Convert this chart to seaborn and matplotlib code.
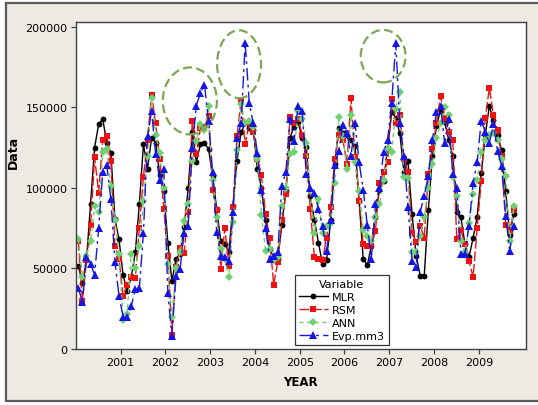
import numpy as np
import pandas as pd
import matplotlib
matplotlib.use("Agg")
import matplotlib.pyplot as plt
from matplotlib.patches import Rectangle, Ellipse
import seaborn as sns

# ---------------- data (values in the plot's units) ----------------
mlr = [51.7, 41, 55, 90, 125, 139.6, 142.7, 128, 121.6, 80.7, 68, 46,
       36, 44.5, 60, 90, 127, 112, 131, 128, 108, 98, 66, 42,
       56, 59, 76, 99.7, 135, 116, 127, 128, 124, 107.5, 87, 67,
       65, 60.4, 89, 117, 134.5, 140, 137.5, 136, 111.7, 100, 80, 62,
       57, 56, 77, 98, 131, 138, 141, 131, 125.5, 95, 80, 66,
       52.7, 55, 80, 115, 137, 134, 133, 130, 126, 92, 56, 52,
       64, 82, 99, 104, 125, 147, 143.7, 133.8, 110, 116.8, 84, 58,
       45.5, 45.5, 86, 120, 138.6, 148, 141, 130, 120, 85, 82, 65,
       57, 69, 82, 109, 133, 151, 142, 133, 123.5, 98, 71, 84]
rsm = [67, 30, 55, 77, 119, 97, 130, 132, 117, 64, 56, 33,
       40, 44.5, 44, 75, 107, 130, 157.8, 140, 118, 87, 58, 9,
       51, 63, 59.6, 85, 141.7, 121, 137, 138, 144.8, 99, 86, 49.6,
       75, 51.7, 88, 132, 154, 127, 140, 135, 118, 108, 84, 69,
       40, 54, 80, 96, 144, 140, 143, 133, 120, 87, 57, 56,
       55, 69, 88, 118, 133, 130, 115, 155.6, 119, 92, 65, 64,
       64, 73, 103, 109.6, 115.8, 155, 140, 145, 118, 110, 72, 66.6,
       76.5, 69, 108.6, 124, 140, 157, 143.7, 135, 130, 68, 74, 65,
       54.8, 44.5, 75, 104, 143.7, 162, 145, 136, 120, 77, 73, 86]
ann = [68, 45, 58, 67, 89, 85, 122, 124, 101, 80, 59, 18,
       22, 59, 50, 64, 92, 120, 155.7, 132.8, 121.6, 100, 53, 20,
       50, 60, 79.6, 90, 117, 129, 139.6, 136, 150.6, 105, 81.7, 62,
       56, 44.5, 79, 123.7, 152, 140, 141.7, 138, 118, 83, 61, 62,
       55, 57, 89, 100, 121, 122, 148, 143, 128, 99, 72, 93,
       72, 76.5, 78, 103, 144, 132, 112, 145, 116, 98, 74, 70,
       67, 82, 90, 105, 125, 122, 149, 159.6, 106.5, 106, 60.4, 60,
       70, 81.7, 100, 115, 131, 140, 150, 145, 107, 95, 67, 60,
       78, 96, 105, 122, 130, 133, 134, 130, 118, 107.5, 67, 88.5]
evp = [38, 29, 57, 53, 46, 75, 110, 114, 93, 54, 33, 20,
       20, 26.5, 37, 38, 72, 132, 148, 121, 105, 111.7, 34.7, 8.3,
       45.5, 49.6, 72, 76.5, 125, 151, 159, 164, 141.7, 109.6, 72.8, 57.5,
       57, 54.8, 84.8, 130.7, 140, 190, 153, 140, 121.6, 99, 75, 56,
       58, 60, 101, 110, 143, 129, 151, 148, 108.6, 100, 97, 87,
       76.5, 61, 80, 114, 123, 139, 134, 120, 140, 115.8, 99, 77,
       56, 90, 100, 122, 130, 153, 190, 140, 120, 88, 54.8, 50.7,
       85, 95, 107.5, 130, 147, 151, 128, 142.7, 108.6, 100, 59, 59,
       76.5, 103, 115.8, 141.7, 135, 128, 139.6, 123, 113.7, 82.7, 61, 76.5]
series_names = ["MLR", "RSM", "ANN", "Evp.mm3"]
year_labels = ["2001", "2002", "2003", "2004", "2005", "2006", "2007", "2008", "2009"]
y_ticks = [0, 50000, 100000, 150000, 200000]

scale = 1000
idx = np.arange(len(mlr))
df = pd.DataFrame({"Index": idx,
                   "MLR": np.array(mlr) * scale,
                   "RSM": np.array(rsm) * scale,
                   "ANN": np.array(ann) * scale,
                   "Evp.mm3": np.array(evp) * scale})

# ---------------- styles ----------------
styles = {
    "MLR": dict(color="black", marker="o", ms=4.2, ls="-"),
    "RSM": dict(color="#EE1111", marker="s", ms=4.0, ls=(0, (7, 2))),
    "ANN": dict(color="#6FD06F", marker="D", ms=4.0, ls=(0, (3, 2.5))),
    "Evp.mm3": dict(color="#1515E6", marker="^", ms=5.2, ls=(0, (9, 3, 2, 3))),
}

W, H = 538, 406
fig = plt.figure(figsize=(W / 100, H / 100), dpi=100)
fig.patch.set_facecolor("white")
fig.add_artist(Rectangle((6 / W, 1 - 401.5 / H), 1.2, 397.5 / H,
                         transform=fig.transFigure, facecolor="#EDEAE3",
                         edgecolor="#5A5A5A", linewidth=1.6, zorder=-10))

ax = fig.add_axes([76 / W, 1 - 350 / H, 450 / W, 327 / H])
ax.set_facecolor("white")

for name in series_names:
    st = styles[name]
    sns.lineplot(data=df, x="Index", y=name, ax=ax, color=st["color"],
                 marker=st["marker"], markersize=st["ms"], markeredgewidth=0,
                 linestyle=st["ls"], linewidth=1.0, label=name)

# highlight ellipses (annotations, in data coordinates)
ell_color = "#7BA653"
for (cx, cy, w, h) in [(27.4, 154000, 13.3, 41600),
                       (39.5, 176800, 10.8, 42200),
                       (74.9, 181800, 11.0, 32600)]:
    ax.add_patch(Ellipse((cx, cy), w, h, fill=False, edgecolor=ell_color,
                         linewidth=1.6, linestyle=(0, (4, 2)), zorder=5))

ax.set_xlim(-0.57, 110)
ax.set_ylim(0, 203000)
tick_pos = [10.4 + 11 * j for j in range(len(year_labels))]
ax.set_xticks(tick_pos)
ax.set_xticklabels(year_labels)
ax.set_yticks(y_ticks)
ax.set_yticklabels([str(v) for v in y_ticks])
for sp in ax.spines.values():
    sp.set_color("#404040")
    sp.set_linewidth(1.0)
ax.tick_params(direction="out", length=3.5, width=0.9, color="#404040",
               labelsize=8, labelcolor="black", pad=2.5)

ax.set_xlabel("YEAR", fontsize=8.5, fontweight="bold")
ax.set_ylabel("Data", fontsize=9, fontweight="bold")
ax.xaxis.set_label_coords(0.498, -0.078)
ax.yaxis.set_label_coords(-0.125, 0.605)

handles, labels = ax.get_legend_handles_labels()
leg = ax.legend(handles, labels, title="Variable", loc="lower left",
                bbox_to_anchor=(0.487, 0.012), fontsize=8, title_fontsize=8,
                frameon=True, fancybox=False, edgecolor="black",
                handlelength=2.6, handletextpad=0.35, labelspacing=0.28,
                borderpad=0.35, borderaxespad=0)
leg.get_frame().set_linewidth(0.9)
leg.set_zorder(10)

fig.savefig("out.png", dpi=100, facecolor=fig.get_facecolor())
